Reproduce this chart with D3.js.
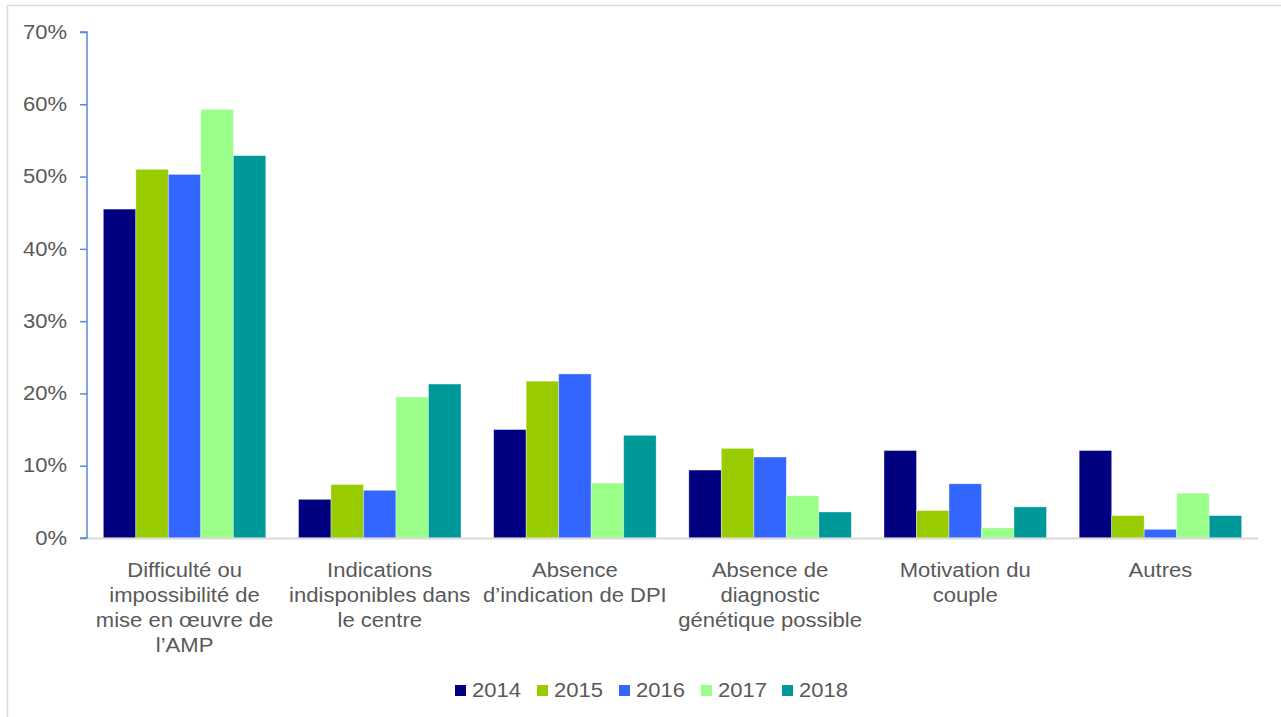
<!DOCTYPE html>
<html>
<head>
<meta charset="utf-8">
<script src="https://cdn.jsdelivr.net/npm/d3@7"></script>
<style>
  html, body { margin: 0; padding: 0; background: #fff; }
  svg { display: block; font-family: "Liberation Sans", Arial, sans-serif; }
</style>
</head>
<body>
<svg id="chart" width="1281" height="717"></svg>
<script>
const categories = [
  ["Difficulté ou", "impossibilité de", "mise en œuvre de", "l’AMP"],
  ["Indications", "indisponibles dans", "le centre"],
  ["Absence", "d’indication de DPI"],
  ["Absence de", "diagnostic", "génétique possible"],
  ["Motivation du", "couple"],
  ["Autres"]
];
const years = ["2014", "2015", "2016", "2017", "2018"];
const colors = ["#000080", "#99cc00", "#3366ff", "#99ff88", "#009999"];
const v2014 = [45.5, 5.35, 15.0, 9.4, 12.1, 12.1];
const v2015 = [51.0, 7.4, 21.7, 12.4, 3.8, 3.1];
const v2016 = [50.3, 6.6, 22.7, 11.2, 7.5, 1.2];
const v2017 = [59.3, 19.5, 7.6, 5.85, 1.4, 6.2];
const v2018 = [52.9, 21.3, 14.2, 3.6, 4.3, 3.1];
const series = [v2014, v2015, v2016, v2017, v2018];
const yTicks = [0, 10, 20, 30, 40, 50, 60, 70];

const FS = 19.5, SX = 1.13;
const stretch = ax => `translate(${ax},0) scale(${SX},1) translate(${-ax},0)`;

const svg = d3.select("#chart");

// outer frame
svg.append("rect")
  .attr("x", 7.5).attr("y", 5.5)
  .attr("width", 1300).attr("height", 730)
  .attr("fill", "none").attr("stroke", "#d9d9d9").attr("stroke-width", 1.5);

const x0 = 87, x1 = 1258, yTop = 32, yBase = 538;
const x = d3.scaleBand().domain(d3.range(categories.length)).range([x0, x1])
  .paddingInner(0.1675).paddingOuter(0.0837);
const xs = d3.scaleBand().domain(d3.range(years.length)).range([0, x.bandwidth()]);
const y = d3.scaleLinear().domain([0, 70]).range([yBase, yTop]);

// bars
const g = svg.append("g");
series.forEach((vals, si) => {
  g.selectAll(null).data(vals).enter().append("rect")
    .attr("x", (d, i) => x(i) + xs(si))
    .attr("y", d => y(d))
    .attr("width", xs.bandwidth())
    .attr("height", d => y(0) - y(d))
    .attr("fill", colors[si])
    .attr("stroke", "rgba(255,255,255,0.45)")
    .attr("stroke-width", 0.8);
});

// baseline
svg.append("line")
  .attr("x1", x0).attr("x2", x1).attr("y1", yBase + 0.5).attr("y2", yBase + 0.5)
  .attr("stroke", "#d9d9d9").attr("stroke-width", 2);

// y axis
const yAxis = d3.axisLeft(y).tickValues(yTicks).tickFormat(d => d + "%").tickSize(7).tickPadding(13);
const ya = svg.append("g").attr("transform", `translate(${x0},0)`).call(yAxis);
ya.select(".domain").attr("stroke", "#5b8bd0").attr("stroke-width", 1.5)
  .attr("d", `M-7,${yTop}H0V${yBase}H-7`);
ya.selectAll(".tick line").attr("stroke", "#5b8bd0").attr("stroke-width", 1.5);
ya.selectAll(".tick text").attr("fill", "#595959").attr("font-size", FS)
  .attr("font-family", "Liberation Sans, Arial, sans-serif")
  .attr("transform", stretch(-20));

// category labels
categories.forEach((lines, i) => {
  const cx = x(i) + x.bandwidth() / 2;
  const t = svg.append("text").attr("text-anchor", "middle")
    .attr("fill", "#595959").attr("font-size", FS)
    .attr("transform", stretch(cx));
  lines.forEach((ln, li) => {
    t.append("tspan").attr("x", cx).attr("y", 577 + li * 25).text(ln);
  });
});

// legend
const legendX = [455, 537, 619, 701, 782];
years.forEach((yr, i) => {
  svg.append("rect").attr("x", legendX[i]).attr("y", 685)
    .attr("width", 11).attr("height", 11).attr("fill", colors[i]);
  const tx = legendX[i] + 17;
  svg.append("text").attr("x", tx).attr("y", 697)
    .attr("fill", "#595959").attr("font-size", FS)
    .attr("transform", stretch(tx)).text(yr);
});
</script>
</body>
</html>
